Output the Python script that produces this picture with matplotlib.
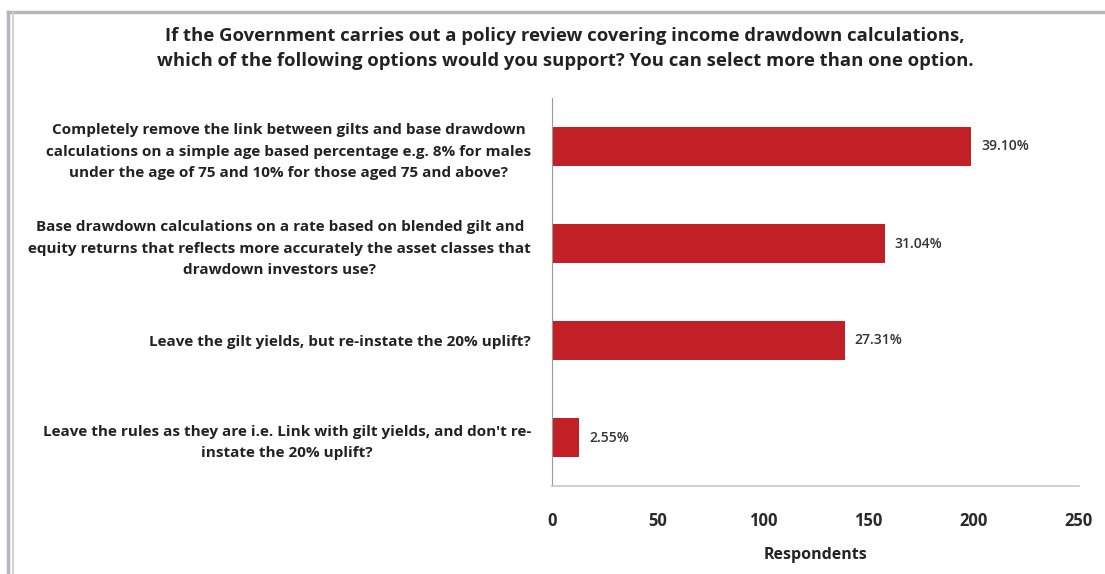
import matplotlib
matplotlib.use("Agg")
import matplotlib.pyplot as plt
from matplotlib import font_manager
from matplotlib.lines import Line2D

# pick a narrow font if it is there (looks closer to Calibri)
names = set(f.name for f in font_manager.fontManager.ttflist)
fam = "Liberation Sans Narrow" if "Liberation Sans Narrow" in names else "Open Sans"
plt.rcParams['font.family'] = [fam, 'DejaVu Sans']

title = ("If the Government carries out a policy review covering income drawdown calculations,\n"
         "which of the following options would you support? You can select more than one option.")

options = [
    "Completely remove the link between gilts and base drawdown\n"
    "calculations on a simple age based percentage e.g. 8% for males\n"
    "under the age of 75 and 10% for those aged 75 and above?",
    "Base drawdown calculations on a rate based on blended gilt and\n"
    "equity returns that reflects more accurately the asset classes that\n"
    "drawdown investors use?",
    "Leave the gilt yields, but re-instate the 20% uplift?",
    "Leave the rules as they are i.e. Link with gilt yields, and don't re-\n"
    "instate the 20% uplift?",
]
respondents = [199, 158, 139, 13]
percent_labels = ["39.10%", "31.04%", "27.31%", "2.55%"]
xticks = [0, 50, 100, 150, 200, 250]

fig = plt.figure(figsize=(11.05, 5.74), dpi=100)
ax = fig.add_axes([552/1105, 1 - 486/574, (1079-552)/1105, (486-98)/574])

ypos = list(range(len(options)))[::-1]
ax.barh(ypos, respondents, height=0.4, color="#C21F26")
for y, v, lab in zip(ypos, respondents, percent_labels):
    ax.text(v + 4.5, y, lab, va="center", ha="left", fontsize=10,
            color="#333333", fontweight="semibold")

ax.set_xlim(0, 250)
ax.set_ylim(-0.5, 3.5)
ax.set_xticks(xticks)
ax.set_xticklabels([str(t) for t in xticks], fontsize=12, fontweight="bold",
                   color="#2a2a2a")
ax.set_yticks(ypos)
ax.set_yticklabels(options, fontsize=11, fontweight="bold", color="#222222",
                   multialignment="center", linespacing=1.65)
ax.tick_params(axis="both", length=0)
ax.tick_params(axis="x", pad=19)
ax.tick_params(axis="y", pad=15)
ax.set_xlabel("Respondents", fontsize=11.5, fontweight="bold", labelpad=12,
              color="#222222")

for s in ["top", "right"]:
    ax.spines[s].set_visible(False)
ax.spines["left"].set_color("#9a9a9a")
ax.spines["bottom"].set_color("#c8c8c8")
ax.spines["bottom"].set_linewidth(1.2)

fig.text(565/1105, 1 - 48.5/574, title, ha="center", va="center", fontsize=13.3,
         fontweight="bold", color="#222222", linespacing=1.5)

# outer frame lines
fig.add_artist(Line2D([8/1105, 1], [1 - 12/574] * 2, color="#b4b8bc", lw=2.5))
fig.add_artist(Line2D([8/1105] * 2, [0, 1 - 12/574], color="#b4b8bc", lw=2.5))
fig.add_artist(Line2D([12.5/1105] * 2, [0, 1 - 12/574], color="#c8ccd0", lw=1.2))

fig.savefig("out.png", dpi=100)
